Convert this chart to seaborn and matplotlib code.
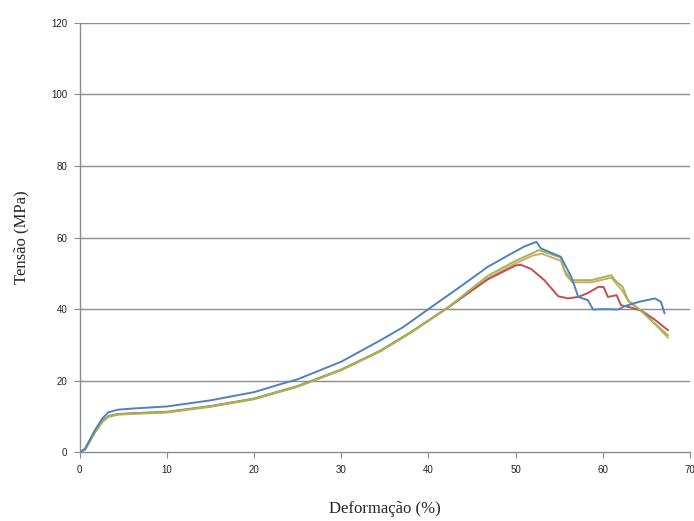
import matplotlib
matplotlib.use("Agg")
import matplotlib.pyplot as plt
import seaborn as sns
import pandas as pd

# curvas tensão x deformação (4 corpos de prova)
x_azul = [0, 0.6, 1.7, 2.6, 3.3, 4.4, 6, 10, 15, 20, 23, 25, 30, 34.5, 37, 40, 43.5, 46.8,
          49.5, 51, 52.4, 52.9, 55.2, 56.4, 57.2, 58.3, 58.9, 60, 61.8, 62.5, 64.1, 66.0, 66.7, 67.1]
y_azul = [0, 1, 6, 9.5, 11.2, 11.9, 12.2, 12.8, 14.5, 16.8, 19.0, 20.4, 25.3, 31.3, 34.8, 40.0, 46.0, 51.8,
          55.5, 57.5, 58.8, 57.0, 54.6, 49.0, 43.4, 42.5, 39.9, 40.0, 39.9, 40.8, 42.0, 43.0, 42.0, 38.8]

x_verde = [0, 0.6, 1.7, 2.6, 3.3, 4.4, 6, 10, 15, 20, 23, 25, 30, 34.5, 38, 42.2, 46.8, 50, 52.7,
           53.3, 55.2, 55.6, 56.4, 58.7, 61.0, 61.4, 62.3, 62.9, 64.1, 65.5, 67.5]
y_verde = [0, 0.8, 5.5, 8.6, 10.0, 10.6, 10.8, 11.2, 12.8, 14.9, 17.0, 18.4, 23.0, 28.3, 33.5, 40.4, 49.3, 53.5, 56.5,
           56.0, 54.4, 50.9, 48.1, 48.1, 49.5, 48.1, 46.2, 42.5, 40.2, 37.0, 32.7]

x_vermelho = [0, 0.6, 1.7, 2.6, 3.3, 4.4, 6, 10, 15, 20, 23, 25, 30, 34.5, 38, 42.2, 46.8, 50, 50.6,
              51.8, 53.3, 54.9, 56.0, 57.2, 58.3, 59.5, 60.1, 60.6, 61.6, 62.1, 63.3, 64.5, 66, 67.5]
y_vermelho = [0, 0.8, 5.6, 8.8, 10.1, 10.7, 10.9, 11.3, 12.9, 15.0, 17.1, 18.5, 23.1, 28.4, 33.6, 40.4, 48.3, 52.2, 52.4,
              51.2, 48.1, 43.6, 43.0, 43.4, 44.5, 46.2, 46.2, 43.4, 43.9, 41.1, 40.4, 39.5, 37.0, 34.1]

x_laranja = [0, 0.6, 1.7, 2.6, 3.3, 4.4, 6, 10, 15, 20, 23, 25, 30, 34.5, 38, 42.2, 46.8, 50, 52.0,
             53.0, 55.2, 55.8, 56.5, 58.7, 61.0, 61.6, 62.3, 63.0, 64.0, 65.0, 66.0, 67.5]
y_laranja = [0, 0.7, 5.4, 8.5, 9.9, 10.5, 10.7, 11.1, 12.7, 14.8, 16.9, 18.3, 22.9, 28.2, 33.4, 40.3, 48.6, 52.8, 55.0,
             55.5, 53.5, 49.5, 47.5, 47.5, 48.8, 47.0, 45.0, 42.0, 40.3, 38.3, 35.8, 32.0]

yticks = [0, 20, 40, 60, 80, 100, 120]
xticks = [0, 10, 20, 30, 40, 50, 60, 70]

sns.set_style("white")
fig = plt.figure(figsize=(6.94, 5.21), dpi=100)
ax = fig.add_axes([0.115, 0.132, 0.879, 0.824])

for ys in yticks[1:]:
    ax.axhline(ys, color="#8c8c8c", lw=1.0, zorder=0)

series = [
    (x_laranja, y_laranja, "#dba46c"),
    (x_vermelho, y_vermelho, "#c0504d"),
    (x_verde, y_verde, "#9bbb59"),
    (x_azul, y_azul, "#4f81bd"),
]
for xs, ys, cor in series:
    sns.lineplot(x=xs, y=ys, color=cor, lw=1.4, sort=False, ax=ax, zorder=3)

ax.set_xlim(0, 70)
ax.set_ylim(0, 120)
ax.set_xticks(xticks)
ax.set_yticks(yticks)
ax.set_xticklabels([str(v) for v in xticks], fontsize=7, family="Liberation Sans")
ax.set_yticklabels([str(v) for v in yticks], fontsize=7, family="Liberation Sans")
ax.tick_params(axis="both", direction="out", length=4, width=0.8, color="#8c8c8c",
               labelcolor="#222222", pad=5, left=True, bottom=True)

for s in ["top", "right"]:
    ax.spines[s].set_visible(False)
for s in ["left", "bottom"]:
    ax.spines[s].set_color("#8c8c8c")
    ax.spines[s].set_linewidth(1.0)

ax.set_xlabel("Deformação (%)", fontsize=12, family="Liberation Serif", labelpad=19)
ax.set_ylabel("Tensão (MPa)", fontsize=12, family="Liberation Serif", labelpad=16)

plt.savefig("out.png", dpi=100)
